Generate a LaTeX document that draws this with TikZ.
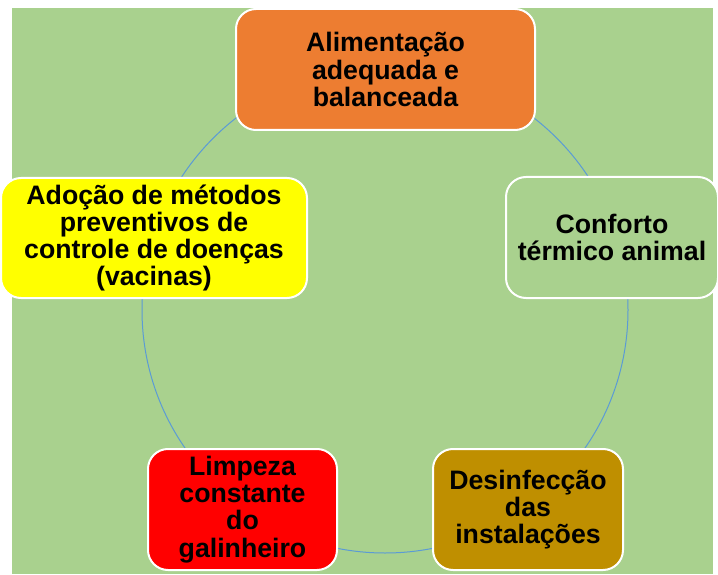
\documentclass[tikz,border=0pt]{standalone}
\usepackage{fontspec}
\setmainfont{Liberation Sans}
\usetikzlibrary{positioning}

\definecolor{bggreen}{HTML}{A9D18E}
\definecolor{ringblue}{HTML}{5B9BD5}
\definecolor{feedorange}{HTML}{ED7D31}
\definecolor{cleangold}{HTML}{BF8F00}
\definecolor{vacyellow}{HTML}{FFFF00}

\begin{document}
\begin{tikzpicture}[x=1pt, y=-1pt,
                    every node/.style={align=center, font=\bfseries\fontsize{26.7}{27.3}\selectfont},
                    box/.style={draw=white, line width=2pt, rounded corners=20pt, inner sep=0pt,
                                minimum height=121pt}]

\useasboundingbox (0,0) rectangle (718,575);
\fill[bggreen] (12,8) rectangle (713,574);

% ring behind the boxes
\coordinate (c) at (385,310);
\draw[ringblue, line width=1pt] (c) circle [radius=243];

\node[box, fill=feedorange, minimum width=299pt] (alim) at (385.5,69.5)
      {Alimentação\\adequada e\\balanceada};
\node[box, fill=bggreen, minimum width=212pt] (conf) at (612,237.5)
      {Conforto\\térmico animal};
\node[box, fill=cleangold, minimum width=190pt] (desinf) at (528,509.5)
      {Desinfecção\\das\\instalações};
\node[box, fill=red, minimum width=189pt] (limp) at (242.5,509.5)
      {Limpeza\\constante\\do\\galinheiro};
\node[box, fill=vacyellow, minimum width=306pt, minimum height=120pt] (adoc) at (154,238)
      {Adoção de métodos\\preventivos de\\controle de doenças\\(vacinas)};
\end{tikzpicture}
\end{document}
